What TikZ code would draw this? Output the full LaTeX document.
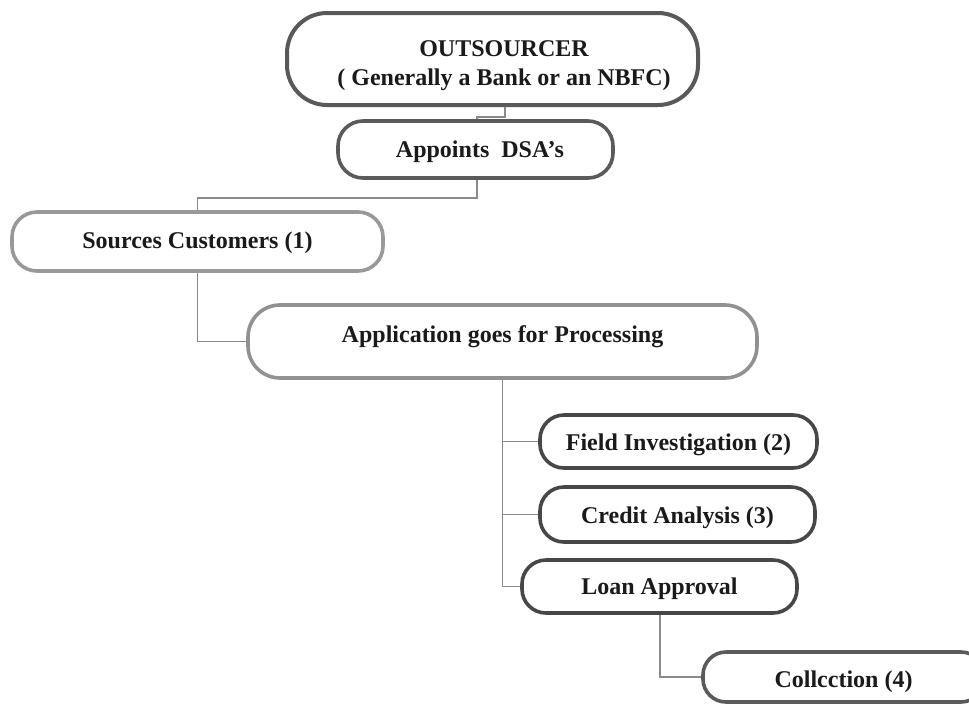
\documentclass[tikz,border=0pt]{standalone}
\usepackage{fontspec}
\setmainfont{Liberation Serif}
\definecolor{inkdark}{HTML}{474747}
\definecolor{inkmid}{HTML}{5A5A5A}
\definecolor{inklight}{HTML}{999999}
\definecolor{wire}{HTML}{8A8A8A}
\definecolor{txt}{HTML}{1A1A1A}
\tikzset{
  pill/.style={draw, line width=3.6pt, fill=white, inner sep=0pt,
    text height=16pt, text depth=0pt,
    font=\fontsize{24}{29}\selectfont\bfseries, text=txt, align=center},
  link/.style={draw=wire, line width=1.5pt}
}
\begin{document}
\begin{tikzpicture}[x=1pt, y=-1pt]
  \useasboundingbox (0,0) rectangle (969,705);

  % boxes
  \node[pill, draw=inkdark!90, line width=4pt, minimum width=411pt, minimum height=92pt,
        rounded corners=40pt, text height=52pt, text depth=0pt] (outs) at (492.5,59)
        {\hspace*{23pt}OUTSOURCER\\\hspace*{23pt}( Generally a Bank or an NBFC)};
  \node[pill, draw=inkmid, minimum width=275pt, minimum height=57pt,
        rounded corners=25pt, text height=15pt] (dsa) at (475.5,149.5) {\hspace*{9pt}Appoints\ \ DSA’s};
  \node[pill, draw=inklight, minimum width=371pt, minimum height=59pt,
        rounded corners=25pt, text height=13pt] (src) at (197.5,241.5) {Sources Customers (1)};
  \node[pill, draw=inklight!95!black, minimum width=509pt, minimum height=73pt,
        rounded corners=32pt, text height=1pt] (app) at (502.5,341.5) {Application goes for Processing};
  \node[pill, draw=inkdark, minimum width=277pt, minimum height=53pt,
        rounded corners=24pt, text height=17pt] (fi) at (678.5,441.5) {Field Investigation (2)};
  \node[pill, draw=inkdark, minimum width=275pt, minimum height=55pt,
        rounded corners=24pt, text height=17pt] (ca) at (677.5,514.5) {Credit Analysis (3)};
  \node[pill, draw=inkdark, minimum width=275pt, minimum height=53pt,
        rounded corners=24pt, text height=16pt] (la) at (659.5,586.5) {Loan Approval};
  \node[pill, draw=inkmid, minimum width=281pt, minimum height=50pt,
        rounded corners=23pt, text height=20pt] (col) at (843.5,677) {Collcction (4)};

  % connectors
  \draw[link] ([xshift=12.5pt]outs.south) -- ++(0,10) -| ([xshift=1.5pt]dsa.north);
  \draw[link] ([xshift=1.5pt]dsa.south) -- ++(0,18) -| (src.north);
  \draw[link] (src.south) |- (app.west);
  \draw[link] (app.south) |- (fi.west);
  \draw[link] (app.south) |- (ca.west);
  \draw[link] (app.south) |- (la.west);
  \draw[link] ([xshift=0.5pt]la.south) |- (col.west);
\end{tikzpicture}
\end{document}
